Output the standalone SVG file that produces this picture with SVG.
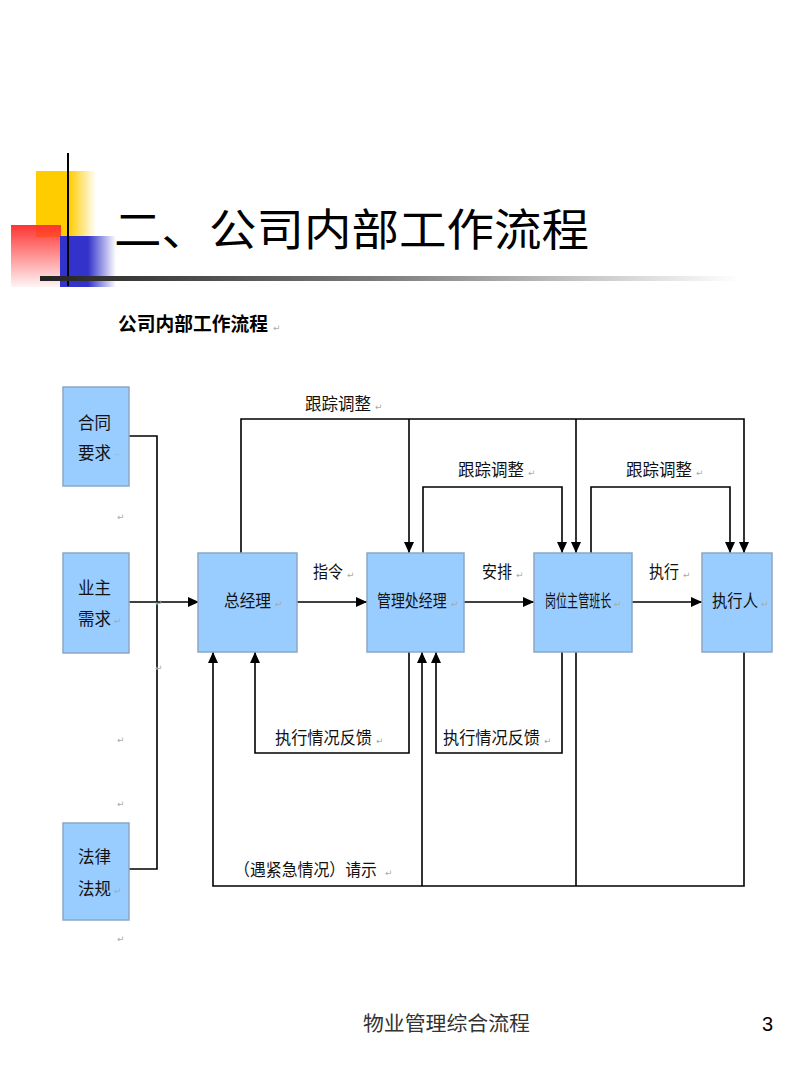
<svg xmlns="http://www.w3.org/2000/svg" width="800" height="1066" viewBox="0 0 800 1066">
<defs>
<linearGradient id="gY" x1="0" y1="0" x2="1" y2="0"><stop offset="0" stop-color="#ffcc00"/><stop offset="0.55" stop-color="#ffcc00"/><stop offset="1" stop-color="#ffcc00" stop-opacity="0"/></linearGradient>
<linearGradient id="gR" x1="0" y1="0" x2="0" y2="1"><stop offset="0" stop-color="#ff3333"/><stop offset="1" stop-color="#ff3333" stop-opacity="0.05"/></linearGradient>
<linearGradient id="gB" x1="0" y1="0" x2="1" y2="0"><stop offset="0" stop-color="#3333cc"/><stop offset="0.5" stop-color="#3333cc"/><stop offset="1" stop-color="#3333cc" stop-opacity="0"/></linearGradient>
<linearGradient id="gL" x1="0" y1="0" x2="1" y2="0"><stop offset="0" stop-color="#222222"/><stop offset="0.5" stop-color="#808080"/><stop offset="1" stop-color="#ffffff"/></linearGradient>
<marker id="ar" markerUnits="userSpaceOnUse" markerWidth="12" markerHeight="10" refX="11" refY="5" orient="auto"><path d="M0,0 L11,5 L0,10 z" fill="#000"/></marker>
</defs>
<style>
.box{fill:#99ccff;stroke:#8ca6c4;stroke-width:1.5}
.bt{font-family:"Noto Sans CJK SC",sans-serif;font-size:17px;fill:#111}
.lb{font-family:"Noto Sans CJK SC",sans-serif;font-size:17px;fill:#111}
.ret{font-family:"DejaVu Sans",sans-serif;font-size:9px;fill:#aaaaaa}
.cn{fill:none;stroke:#000;stroke-width:1.6}
.ca{fill:none;stroke:#000;stroke-width:1.6;marker-end:url(#ar)}
</style>
<rect width="800" height="1066" fill="#ffffff"/>
<g id="decor">
<rect x="36" y="171" width="60" height="66" fill="url(#gY)"/>
<rect x="11" y="225" width="50" height="62" fill="url(#gR)"/>
<rect x="60" y="236" width="56" height="51" fill="url(#gB)"/>
<line x1="68" y1="153" x2="68" y2="286" stroke="#000" stroke-width="2"/>
<rect x="40" y="276" width="700" height="5" fill="url(#gL)"/>
</g>
<text x="114" y="246" font-family="Noto Sans CJK SC,sans-serif" font-size="44" fill="#000" textLength="475" lengthAdjust="spacingAndGlyphs">二、公司内部工作流程</text>
<text x="118" y="331" font-family="Noto Sans CJK SC,sans-serif" font-size="19" font-weight="bold" fill="#000" textLength="150" lengthAdjust="spacingAndGlyphs">公司内部工作流程</text><text x="273" y="331" class="ret">↵</text>
<g id="connectors">
<path class="cn" d="M129,436 H157 V869 H129"/>
<path class="ca" d="M129,602 H199"/>
<path class="ca" d="M297,602 H367"/>
<path class="ca" d="M464,602 H534"/>
<path class="ca" d="M631,602 H702"/>
<path class="ca" d="M241,553 V419 H744 V553"/>
<path class="ca" d="M409,419 V553"/>
<path class="ca" d="M576,419 V553"/>
<path class="ca" d="M423,553 V487 H562 V553"/>
<path class="ca" d="M591,553 V487 H730 V553"/>
<path class="ca" d="M409,652 V753 H255 V652"/>
<path class="ca" d="M562,652 V753 H436 V652"/>
<path class="ca" d="M744,652 V886 H213 V652"/>
<path class="cn" d="M576,652 V886"/>
<path class="ca" d="M422,886 V652"/>
</g>
<g id="labels">
<text class="lb" x="305" y="410" textLength="66" lengthAdjust="spacingAndGlyphs">跟踪调整</text><text class="ret" x="375" y="410">↵</text>
<text class="lb" x="458" y="476" textLength="66" lengthAdjust="spacingAndGlyphs">跟踪调整</text><text class="ret" x="528" y="476">↵</text>
<text class="lb" x="626" y="476" textLength="66" lengthAdjust="spacingAndGlyphs">跟踪调整</text><text class="ret" x="696" y="476">↵</text>
<text class="lb" x="313" y="578" textLength="30" lengthAdjust="spacingAndGlyphs">指令</text><text class="ret" x="347" y="578">↵</text>
<text class="lb" x="482" y="578" textLength="30" lengthAdjust="spacingAndGlyphs">安排</text><text class="ret" x="516" y="578">↵</text>
<text class="lb" x="649" y="578" textLength="30" lengthAdjust="spacingAndGlyphs">执行</text><text class="ret" x="683" y="578">↵</text>
<text class="lb" x="275" y="744" textLength="97" lengthAdjust="spacingAndGlyphs">执行情况反馈</text><text class="ret" x="376" y="744">↵</text>
<text class="lb" x="443" y="744" textLength="97" lengthAdjust="spacingAndGlyphs">执行情况反馈</text><text class="ret" x="544" y="744">↵</text>
<text class="lb" x="234" y="876" textLength="143" lengthAdjust="spacingAndGlyphs">（遇紧急情况）请示</text><text class="ret" x="385" y="876">↵</text>
<text class="ret" x="117" y="520">↵</text>
<text class="ret" x="155" y="606">↵</text>
<text class="ret" x="155" y="671">↵</text>
<text class="ret" x="117" y="743">↵</text>
<text class="ret" x="117" y="807">↵</text>
<text class="ret" x="117" y="942">↵</text>
</g>
<g id="n_hetong"><rect class="box" x="63" y="387" width="66" height="99"/><text class="bt" x="78" y="429" textLength="33" lengthAdjust="spacingAndGlyphs">合同</text><text class="bt" x="78" y="459" textLength="33" lengthAdjust="spacingAndGlyphs">要求</text><text class="ret" x="114" y="458">··</text></g>
<g id="n_yezhu"><rect class="box" x="63" y="553" width="66" height="100"/><text class="bt" x="78" y="594" textLength="33" lengthAdjust="spacingAndGlyphs">业主</text><text class="bt" x="78" y="625" textLength="33" lengthAdjust="spacingAndGlyphs">需求</text><text class="ret" x="114" y="624">↵</text></g>
<g id="n_falv"><rect class="box" x="63" y="823" width="66" height="97"/><text class="bt" x="78" y="863" textLength="33" lengthAdjust="spacingAndGlyphs">法律</text><text class="bt" x="78" y="895" textLength="33" lengthAdjust="spacingAndGlyphs">法规</text><text class="ret" x="114" y="894">↵</text></g>
<g id="n_zong"><rect class="box" x="198" y="553" width="99" height="99"/><text class="bt" x="224" y="607" textLength="47" lengthAdjust="spacingAndGlyphs">总经理</text><text class="ret" x="275" y="607">↵</text></g>
<g id="n_guanli"><rect class="box" x="367" y="553" width="97" height="99"/><text class="bt" transform="translate(377,607) scale(0.82,1)" x="0" y="0">管理处经理</text><text class="ret" x="451" y="607">↵</text></g>
<g id="n_gangwei"><rect class="box" x="534" y="553" width="98" height="99"/><text class="bt" transform="translate(545,607) scale(0.65,1)" x="0" y="0">岗位主管班长</text><text class="ret" x="614" y="607">↵</text></g>
<g id="n_zhixing"><rect class="box" x="702" y="553" width="70" height="99"/><text class="bt" x="712" y="607" textLength="46" lengthAdjust="spacingAndGlyphs">执行人</text><text class="ret" x="761" y="607">↵</text></g>
<text x="363" y="1031" font-family="Noto Sans CJK SC,sans-serif" font-size="20" fill="#333" textLength="167" lengthAdjust="spacingAndGlyphs">物业管理综合流程</text>
<text x="762" y="1031" font-family="Liberation Sans,sans-serif" font-size="20" fill="#000">3</text>
</svg>
